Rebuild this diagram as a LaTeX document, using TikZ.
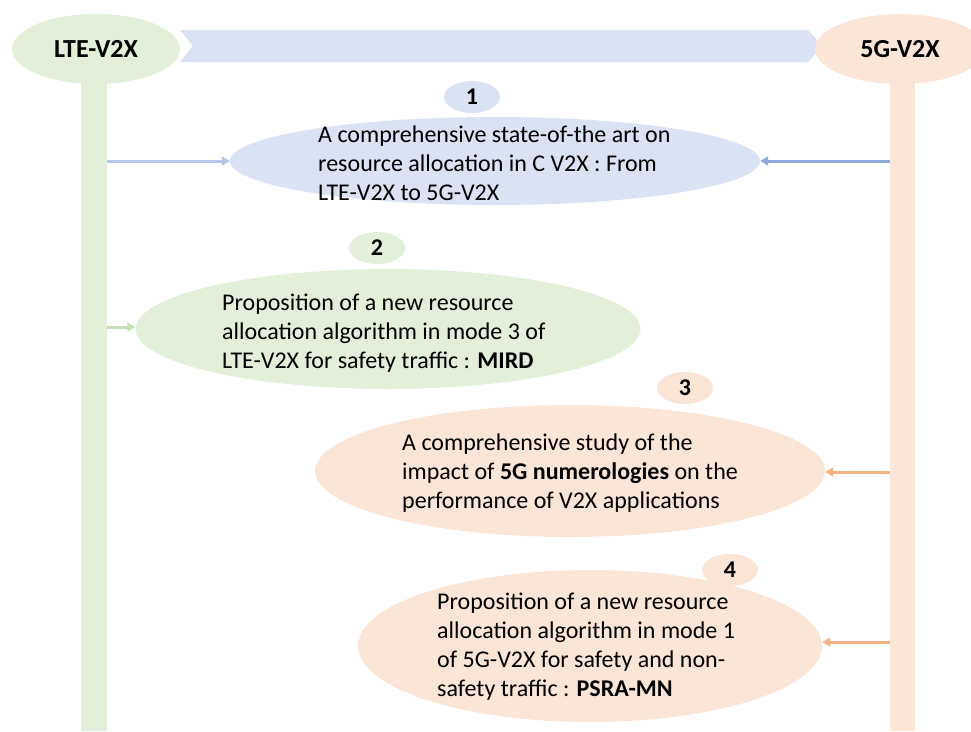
\documentclass[tikz,border=0pt]{standalone}
\usepackage{fontspec}
\setmainfont{Carlito}
\usetikzlibrary{shapes.geometric,arrows.meta}
\definecolor{gfill}{HTML}{E2F0D9}
\definecolor{bfill}{HTML}{DAE3F3}
\definecolor{ofill}{HTML}{FBE5D6}
\definecolor{barrowA}{HTML}{B4C7E7}
\definecolor{barrowB}{HTML}{8FAADC}
\definecolor{garrow}{HTML}{C5E0B4}
\definecolor{oarrow}{HTML}{F4B183}
\tikzset{
  blob/.style={ellipse, inner sep=0pt, draw=none},
  badge/.style={ellipse, inner sep=0pt, minimum width=56pt, minimum height=32pt, font=\fontsize{24}{26}\selectfont\bfseries},
  body/.style={anchor=west, align=left, inner sep=0pt, font=\fontsize{24}{29}\selectfont},
  conn/.style={line width=3pt, -{Triangle[length=8pt,width=9pt]}},
}
\begin{document}
\begin{tikzpicture}[x=1pt,y=-1pt]
\useasboundingbox (0,0) rectangle (971,731);
% bars
\fill[gfill] (80.5,80) rectangle (106.5,731);
\fill[ofill] (890,80) rectangle (915,731);
% chevron
\fill[bfill] (180,30) -- (808,30) -- (823,46) -- (808,62) -- (180,62) -- (193,46) -- cycle;
% header ellipses
\node[blob, fill=gfill, minimum width=168pt, minimum height=70pt, font=\fontsize{26}{28}\selectfont\bfseries] (lte) at (96,49) {LTE-V2X};
\node[blob, fill=ofill, minimum width=170pt, minimum height=70pt, font=\fontsize{26}{28}\selectfont\bfseries] (fg) at (900,49) {5G-V2X};
% ellipse 1
\node[badge, fill=bfill] (b1) at (472,97) {1};
\node[blob, fill=bfill, minimum width=530pt, minimum height=88pt] (e1) at (495,161) {};
\node[body] (t1) at (318,163) {A comprehensive state-of-the art on\\resource allocation in C V2X : From\\LTE-V2X to 5G-V2X};
% ellipse 2
\node[badge, fill=gfill] (b2) at (377,248) {2};
\node[blob, fill=gfill, minimum width=505pt, minimum height=120pt] (e2) at (388,329) {};
\node[body] (t2) at (222,333) {Proposition of a new resource\\allocation algorithm in mode 3 of\\LTE-V2X for safety traffic : \textbf{MIRD}};
% ellipse 3
\node[badge, fill=ofill] (b3) at (685,388) {3};
\node[blob, fill=ofill, minimum width=510pt, minimum height=132pt] (e3) at (570,471) {};
\node[body] (t3) at (402,473) {A comprehensive study of the\\impact of \textbf{5G numerologies} on the\\performance of V2X applications};
% ellipse 4
\node[badge, fill=ofill] (b4) at (730,570) {4};
\node[blob, fill=ofill, minimum width=464pt, minimum height=152pt] (e4) at (590,646) {};
\node[body] (t4) at (437,647) {Proposition of a new resource\\allocation algorithm in mode 1\\of 5G-V2X for safety and non-\\safety traffic : \textbf{PSRA-MN}};
% connectors
\coordinate (g1) at (106.5,161);
\coordinate (o1) at (890,161);
\coordinate (g2) at (106.5,327);
\coordinate (o3) at (890,472);
\coordinate (o4) at (890,642);
\draw[conn, barrowA] (g1) -- (g1 -| e1.west);
\draw[conn, barrowB] (o1) -- (o1 -| e1.east);
\draw[conn, garrow] (g2) -- (g2 -| e2.west);
\draw[conn, oarrow] (o3) -- (o3 -| e3.east);
\draw[conn, oarrow] (o4) -- (o4 -| e4.east);
\end{tikzpicture}
\end{document}
